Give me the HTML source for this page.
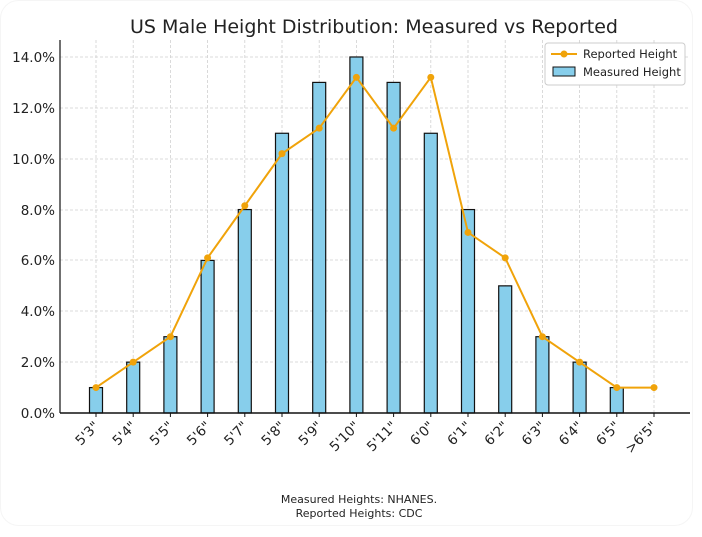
<!DOCTYPE html>
<html><head><style>body{margin:0;background:#fff}svg{display:block;font-family:"DejaVu Sans","Liberation Sans",sans-serif}</style></head><body>
<svg width="702" height="537" xmlns="http://www.w3.org/2000/svg">
<rect x="0.5" y="0.5" width="692" height="525" rx="18" fill="#fff" stroke="#f5f5f5"/>
<text x="374" y="33" font-size="19" text-anchor="middle" fill="#222">US Male Height Distribution: Measured vs Reported</text>
<g stroke="#d0d0d0" stroke-dasharray="3,2" stroke-width="0.8">
<line x1="60" x2="690" y1="57" y2="57"/><line x1="60" x2="690" y1="108" y2="108"/><line x1="60" x2="690" y1="159" y2="159"/><line x1="60" x2="690" y1="210" y2="210"/><line x1="60" x2="690" y1="260" y2="260"/><line x1="60" x2="690" y1="311" y2="311"/><line x1="60" x2="690" y1="362" y2="362"/>
<g id="vg"></g>
</g>
<g id="bars"></g>
<line x1="60" y1="40" x2="60" y2="413" stroke="#111" stroke-width="1.2"/>
<line x1="60" y1="413" x2="690" y2="413" stroke="#111" stroke-width="1.5"/>
<g font-size="13.5" fill="#222" text-anchor="end">
<text x="55" y="62">14.0%</text><text x="55" y="113">12.0%</text><text x="55" y="164">10.0%</text><text x="55" y="215">8.0%</text><text x="55" y="265">6.0%</text><text x="55" y="316">4.0%</text><text x="55" y="367">2.0%</text><text x="55" y="418">0.0%</text>
</g>
<g id="xl" font-size="13.5" fill="#222" text-anchor="end"></g>
<g id="line"></g>
<rect x="545" y="43" width="140" height="42" fill="#fff" stroke="#ccc" rx="3"/>
<line x1="551" y1="54" x2="577" y2="54" stroke="#f0a30a" stroke-width="2"/><circle cx="564" cy="54" r="3.5" fill="#f0a30a"/>
<rect x="553" y="67" width="22" height="9" fill="#87ceeb" stroke="#111"/>
<g font-size="11.5" fill="#222"><text x="583" y="58">Reported Height</text><text x="583" y="76">Measured Height</text></g>
<g font-size="11" fill="#222" text-anchor="middle"><text x="359" y="503">Measured Heights: NHANES.</text><text x="359" y="517">Reported Heights: CDC</text></g>
</svg>
<script>
var labs=["5'3\"","5'4\"","5'5\"","5'6\"","5'7\"","5'8\"","5'9\"","5'10\"","5'11\"","6'0\"","6'1\"","6'2\"","6'3\"","6'4\"","6'5\"",">6'5\""];
var m=[1,2,3,6,8,11,13,14,13,11,8,5,3,2,1,0];
var r=[1,2,3,6.1,8.15,10.2,11.2,13.2,11.2,13.2,7.1,6.1,3,2,1,1];
var ns="http://www.w3.org/2000/svg";
function X(i){return 96+i*37.2}function Y(v){return 413-v*25.43}
function el(t,a,p){var e=document.createElementNS(ns,t);for(var k in a)e.setAttribute(k,a[k]);document.getElementById(p).appendChild(e);return e}
var pts=[];
for(var i=0;i<16;i++){var x=X(i);
el("line",{x1:x,x2:x,y1:40,y2:413},"vg");
if(m[i]>0)el("rect",{x:x-6.5,y:Y(m[i]),width:13,height:413-Y(m[i]),fill:"#87ceeb",stroke:"#111","stroke-width":1.2},"bars");
el("line",{x1:x,x2:x,y1:413,y2:417,stroke:"#111"},"bars");
var t=el("text",{x:x+4,y:427,transform:"rotate(-45 "+(x+4)+" 427)"},"xl");t.textContent=labs[i];
pts.push(x+","+Y(r[i]));}
el("polyline",{points:pts.join(" "),fill:"none",stroke:"#f0a30a","stroke-width":2},"line");
for(var i=0;i<16;i++)el("circle",{cx:X(i),cy:Y(r[i]),r:3.5,fill:"#f0a30a"},"line");
</script>
</body></html>
